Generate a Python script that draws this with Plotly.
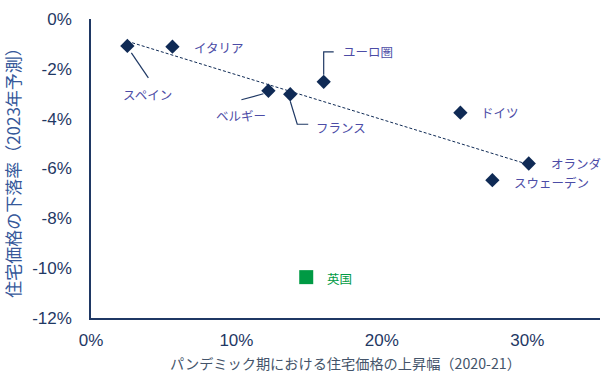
import numpy as np
import plotly.graph_objects as go

# ---- data ----
countries = ["スペイン", "イタリア", "ベルギー", "フランス", "ドイツ", "オランダ", "スウェーデン"]
rise_2020_21 = [2.5, 5.6, 12.2, 13.7, 25.4, 30.1, 27.6]          # x, %
decline_2023 = [-1.08, -1.11, -2.88, -3.02, -3.76, -5.80, -6.47]   # y, %
euro_name = "ユーロ圏"
euro_x = [16.0]
euro_y = [-2.52]
uk_name = "英国"
uk_x = [14.8]
uk_y = [-10.36]
x_ticks = [0, 10, 20, 30]
x_tick_labels = ["0%", "10%", "20%", "30%"]
y_ticks = [0, -2, -4, -6, -8, -10, -12]
y_tick_labels = ["0%", "-2%", "-4%", "-6%", "-8%", "-10%", "-12%"]

NAVY = "#0F2A55"
AXIS = "#1F3864"
LABEL = "#4C4CA6"
GREEN = "#009A44"
JP = "Noto Sans CJK JP"

# regression trend line over the countries
coef = np.polyfit(rise_2020_21, decline_2023, 1)
tx = np.array([min(rise_2020_21), max(rise_2020_21)])
ty = np.polyval(coef, tx)

fig = go.Figure()
fig.add_trace(go.Scatter(x=tx, y=ty, mode="lines",
                         line=dict(color=NAVY, width=1, dash="3px,2px"),
                         hoverinfo="skip", showlegend=False))
fig.add_trace(go.Scatter(x=rise_2020_21 + euro_x, y=decline_2023 + euro_y, mode="markers",
                         marker=dict(symbol="diamond", size=11, color=NAVY),
                         showlegend=False))
fig.add_trace(go.Scatter(x=uk_x, y=uk_y, mode="markers",
                         marker=dict(symbol="square", size=14, color=GREEN),
                         showlegend=False))

pts = dict(zip(countries, zip(rise_2020_21, decline_2023)))
pts[euro_name] = (euro_x[0], euro_y[0])
pts[uk_name] = (uk_x[0], uk_y[0])

# label placement: (xanchor, xshift, yshift)
label_pos = {
    "スペイン": ("center", 20, -49),
    "イタリア": ("left", 20, -1),
    "ベルギー": ("center", -27, -25),
    "フランス": ("left", 24, -33),
    "ユーロ圏": ("left", 17, 30),
    "ドイツ": ("left", 19, 0),
    "オランダ": ("left", 20, 0),
    "スウェーデン": ("left", 20, -2),
    "英国": ("left", 19, -1),
}
for name, (xa, xs, ys) in label_pos.items():
    px, py = pts[name]
    fig.add_annotation(x=px, y=py, text=name, showarrow=False, xanchor=xa,
                       xshift=xs, yshift=ys,
                       font=dict(family=JP, size=12.5,
                                 color=GREEN if name == uk_name else LABEL))

# leader lines (pixel offsets from the marker)
leaders = {
    "スペイン": "M4,-7 L21,-32",
    "ベルギー": "M-5,-3 L-27,-9",
    "フランス": "M0,-7 L7,-30 L18,-30",
    "ユーロ圏": "M0,7 L0,30 L10,30",
}
for name, path in leaders.items():
    px, py = pts[name]
    fig.add_shape(type="path", path=path, xsizemode="pixel", ysizemode="pixel",
                  xanchor=px, yanchor=py, xref="x", yref="y",
                  line=dict(color=AXIS, width=1.2))

fig.update_layout(
    width=602, height=379,
    margin=dict(l=91, r=2, t=19, b=61),
    paper_bgcolor="white", plot_bgcolor="white",
    showlegend=False,
    font=dict(family="Liberation Sans, " + JP, color=AXIS),
)
fig.update_xaxes(range=[0, 35], tickvals=x_ticks, ticktext=x_tick_labels,
                 showgrid=False, zeroline=False, showline=True,
                 linecolor=AXIS, linewidth=1.5, ticks="",
                 ticklabelstandoff=6,
                 tickfont=dict(size=17, color=AXIS, family="Liberation Sans"),
                 title=dict(text="パンデミック期における住宅価格の上昇幅（2020-21）",
                            font=dict(family=JP, size=14.2, color="#44546A"),
                            standoff=10))
fig.update_yaxes(range=[-12, 0], tickvals=y_ticks, ticktext=y_tick_labels,
                 showgrid=False, zeroline=False, showline=True,
                 linecolor=AXIS, linewidth=1.5, ticks="",
                 ticklabelstandoff=14,
                 tickfont=dict(size=17, color=AXIS, family="Liberation Sans"),
                 title=dict(text="住宅価格の下落率（2023年予測）",
                            font=dict(family=JP, size=17, color="#36589A"),
                            standoff=7))

fig.write_html("out.html")
